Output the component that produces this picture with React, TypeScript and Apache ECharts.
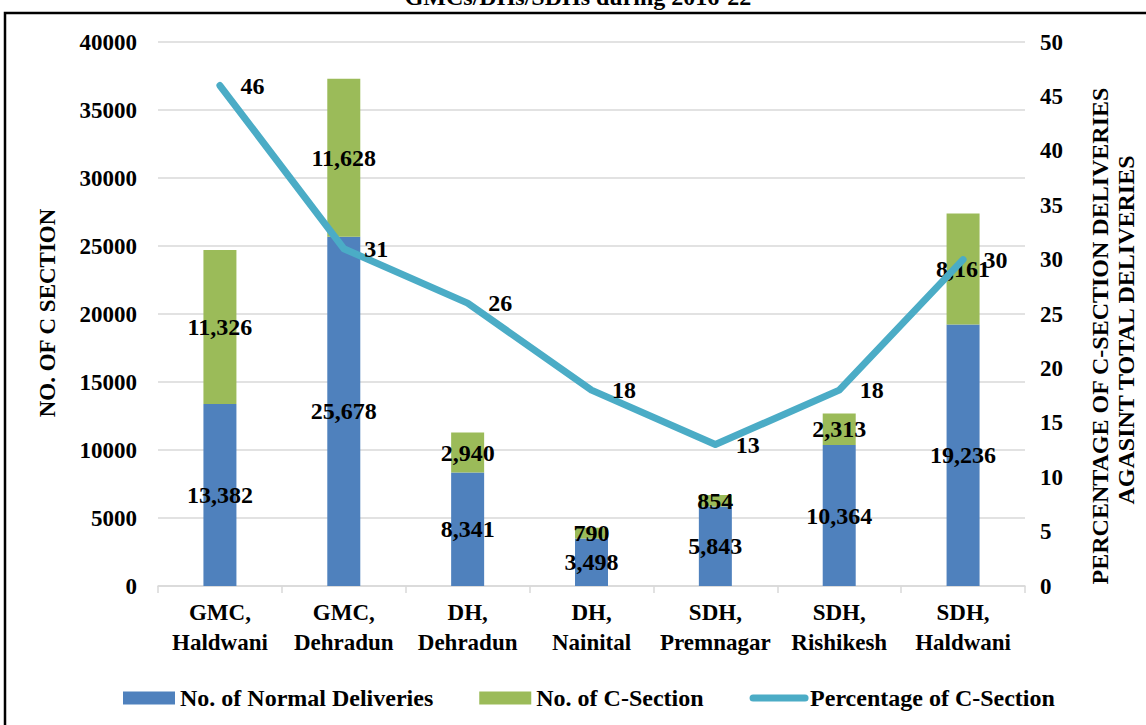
import React, { useEffect, useRef } from "react";
import * as echarts from "echarts";

const categories = [
  "GMC,\nHaldwani",
  "GMC,\nDehradun",
  "DH,\nDehradun",
  "DH,\nNainital",
  "SDH,\nPremnagar",
  "SDH,\nRishikesh",
  "SDH,\nHaldwani",
];
const normalDeliveries = [13382, 25678, 8341, 3498, 5843, 10364, 19236];
const cSections = [11326, 11628, 2940, 790, 854, 2313, 8161];
const cSectionPct = [46, 31, 26, 18, 13, 18, 30];

const FONT = '"Liberation Serif", "Times New Roman", serif';

export default function App() {
  const ref = useRef<HTMLDivElement>(null);
  useEffect(() => {
    if (!ref.current) return;
    const chart = echarts.init(ref.current, null, { renderer: "svg" });
    const fmt = (p: any) => Number(p.value).toLocaleString("en-US");
    const barLabel = {
      show: true,
      position: "inside",
      formatter: fmt,
      fontFamily: FONT,
      fontWeight: "bold",
      fontSize: 24,
      color: "#000",
    };
    chart.setOption({
      animation: false,
      backgroundColor: "#ffffff",
      textStyle: { fontFamily: FONT, color: "#000" },
      grid: { left: 158, right: 121, top: 42, bottom: 139 },
      legend: {
        left: 118,
        top: 681,
        itemWidth: 52,
        itemHeight: 13,
        itemGap: 46,
        textStyle: { fontFamily: FONT, fontWeight: "bold", fontSize: 24, color: "#000" },
        data: [
          { name: "No. of Normal Deliveries", icon: "rect" },
          { name: "No. of C-Section", icon: "rect" },
          {
            name: "Percentage of C-Section",
            itemStyle: { opacity: 0 },
            lineStyle: { width: 7, cap: "round", color: "#4BACC6" },
          },
        ],
      },
      xAxis: {
        type: "category",
        data: categories,
        axisLine: { lineStyle: { color: "#d9d9d9", width: 1.5 } },
        axisTick: { show: true, length: 7, interval: 0, lineStyle: { color: "#d9d9d9", width: 1.5 } },
        axisLabel: {
          interval: 0,
          margin: 11,
          fontFamily: FONT,
          fontWeight: "bold",
          fontSize: 23,
          lineHeight: 30,
          color: "#000",
        },
      },
      yAxis: [
        {
          type: "value",
          min: 0,
          max: 40000,
          interval: 5000,
          axisLine: { show: false },
          axisTick: { show: false },
          splitLine: { lineStyle: { color: "#d9d9d9", width: 1.5 } },
          axisLabel: {
            margin: 21,
            formatter: (v: number) => String(v),
            fontFamily: FONT,
            fontWeight: "bold",
            fontSize: 23,
            color: "#000",
          },
        },
        {
          type: "value",
          min: 0,
          max: 50,
          interval: 5,
          axisLine: { show: false },
          axisTick: { show: false },
          splitLine: { show: false },
          axisLabel: { margin: 15, fontFamily: FONT, fontWeight: "bold", fontSize: 23, color: "#000" },
        },
      ],
      series: [
        {
          name: "No. of Normal Deliveries",
          type: "bar",
          stack: "total",
          barWidth: 33,
          data: normalDeliveries,
          itemStyle: { color: "#4F81BD" },
          label: barLabel,
        },
        {
          name: "No. of C-Section",
          type: "bar",
          stack: "total",
          barWidth: 33,
          data: cSections,
          itemStyle: { color: "#9BBB59" },
          label: barLabel,
        },
        {
          name: "Percentage of C-Section",
          type: "line",
          yAxisIndex: 1,
          data: cSectionPct,
          symbol: "circle",
          symbolSize: 1,
          showSymbol: true,
          itemStyle: { color: "#4BACC6" },
          lineStyle: { color: "#4BACC6", width: 7, cap: "round", join: "round" },
          label: {
            show: true,
            position: "right",
            distance: 20,
            fontFamily: FONT,
            fontWeight: "bold",
            fontSize: 24,
            color: "#000",
          },
          z: 5,
        },
      ],
      graphic: [
        {
          type: "rect",
          shape: { x: 5, y: 13, width: 1200, height: 800 },
          style: { fill: "none", stroke: "#000", lineWidth: 2.5 },
          silent: true,
        },
        {
          type: "text",
          x: 578,
          y: 9,
          style: {
            text: "GMCs/DHs/SDHs during 2016-22",
            fontFamily: FONT,
            fontWeight: "bold",
            fontSize: 24,
            fill: "#000",
            align: "center",
            verticalAlign: "bottom",
          },
        },
        {
          type: "text",
          x: 47,
          y: 313,
          rotation: Math.PI / 2,
          style: {
            text: "NO. OF C SECTION",
            fontFamily: FONT,
            fontWeight: "bold",
            fontSize: 23,
            fill: "#000",
            align: "center",
            verticalAlign: "middle",
          },
        },
        {
          type: "text",
          x: 1100,
          y: 336,
          rotation: Math.PI / 2,
          style: {
            text: "PERCENTAGE OF C-SECTION DELIVERIES",
            fontFamily: FONT,
            fontWeight: "bold",
            fontSize: 24,
            fill: "#000",
            align: "center",
            verticalAlign: "middle",
          },
        },
        {
          type: "text",
          x: 1126,
          y: 330,
          rotation: Math.PI / 2,
          style: {
            text: "AGASINT TOTAL DELIVERIES",
            fontFamily: FONT,
            fontWeight: "bold",
            fontSize: 24,
            fill: "#000",
            align: "center",
            verticalAlign: "middle",
          },
        },
      ],
    });
    return () => chart.dispose();
  }, []);
  return (
    <div
      ref={ref}
      style={{ position: "fixed", left: 0, top: 0, width: 1146, height: 725 }}
    />
  );
}
